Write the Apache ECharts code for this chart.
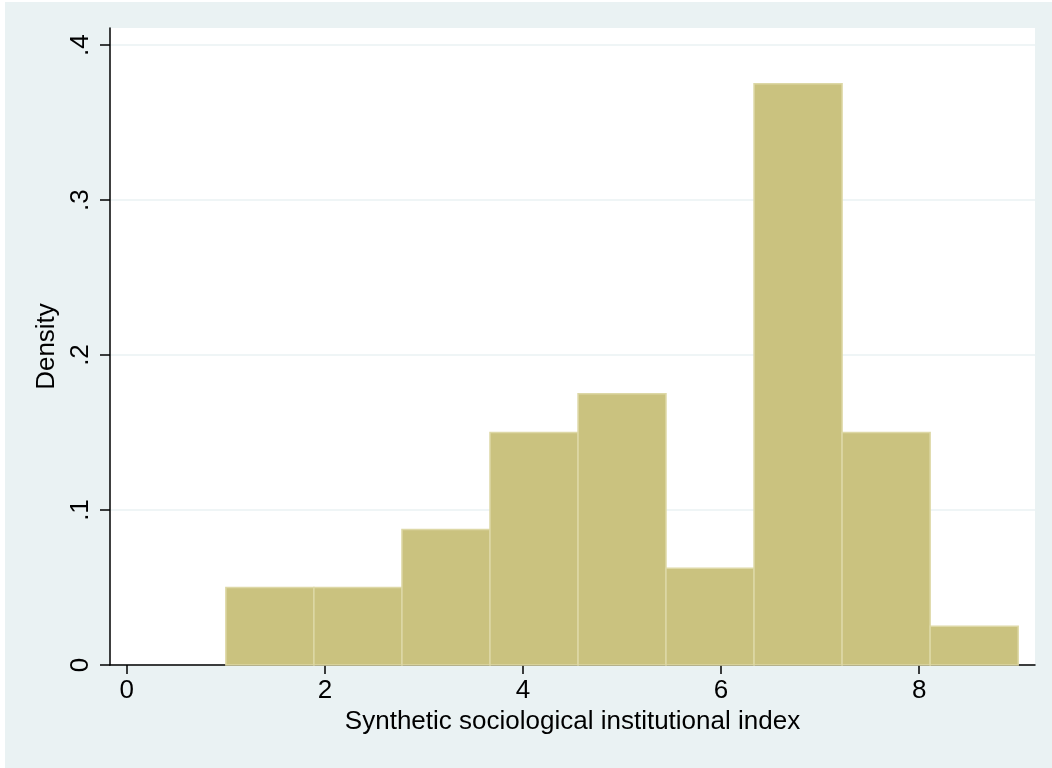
<!DOCTYPE html>
<html>
<head>
<meta charset="utf-8">
<script src="https://cdn.jsdelivr.net/npm/echarts@6/dist/echarts.min.js"></script>
<style>
html,body{margin:0;padding:0;background:#ffffff;}
#chart{width:1052px;height:768px;}
</style>
</head>
<body>
<div id="chart"></div>
<script>
// Data
const binEdges = [1, 1.889, 2.778, 3.667, 4.556, 5.444, 6.333, 7.222, 8.111, 9];
const densities = [0.05, 0.05, 0.0875, 0.15, 0.175, 0.0625, 0.375, 0.15, 0.025];
const xTicks = [0, 2, 4, 6, 8];
const yTicks = [0, 0.1, 0.2, 0.3, 0.4];
const xTitle = 'Synthetic sociological institutional index';
const yTitle = 'Density';

const barData = densities.map((d, i) => [binEdges[i], binEdges[i + 1], d]);

function fmtY(v) {
  const r = Math.round(v * 10) / 10;
  if (r === 0) return '0';
  return String(r).replace(/^0/, '');
}

const chart = echarts.init(document.getElementById('chart'), null, {renderer: 'canvas'});
const FONT = 'Liberation Sans, Arial, Helvetica, sans-serif';

chart.setOption({
  backgroundColor: '#eaf2f3',
  animation: false,
  graphic: [
    {type: 'rect', left: 0, top: 0, shape: {width: 1052, height: 2}, style: {fill: '#ffffff'}, silent: true},
    {type: 'rect', left: 0, top: 0, shape: {width: 5, height: 768}, style: {fill: '#ffffff'}, silent: true}
  ],
  grid: {
    left: 110, right: 17, top: 28, bottom: 103,
    show: true, backgroundColor: '#ffffff', borderWidth: 0
  },
  xAxis: {
    type: 'value',
    min: -0.17, max: 9.17,
    name: xTitle,
    nameLocation: 'middle',
    nameGap: 44,
    nameTextStyle: {fontFamily: FONT, fontSize: 26, color: '#000'},
    axisLine: {show: true, onZero: false, lineStyle: {color: '#000', width: 1.5}},
    axisTick: {show: true, length: 9, customValues: xTicks, lineStyle: {color: '#000', width: 1.5}},
    axisLabel: {show: true, customValues: xTicks, margin: 13, fontFamily: FONT, fontSize: 26, color: '#000'},
    splitLine: {show: false}
  },
  yAxis: {
    type: 'value',
    min: 0, max: 0.411,
    name: yTitle,
    nameLocation: 'middle',
    nameGap: 46,
    nameRotate: 90,
    nameTextStyle: {fontFamily: FONT, fontSize: 26, color: '#000'},
    axisLine: {show: true, onZero: false, lineStyle: {color: '#000', width: 1.5}},
    axisTick: {show: true, length: 10, customValues: yTicks, lineStyle: {color: '#000', width: 1.5}},
    axisLabel: {show: true, customValues: yTicks, rotate: 90, margin: 16, fontFamily: FONT, fontSize: 26, color: '#000', formatter: fmtY},
    splitLine: {show: true, lineStyle: {color: '#eaf2f3', width: 1.5}}
  },
  series: [{
    type: 'custom',
    data: barData,
    encode: {x: [0, 1], y: 2},
    renderItem: function (params, api) {
      const x0 = api.value(0), x1 = api.value(1), y = api.value(2);
      const p0 = api.coord([x0, 0]);
      const p1 = api.coord([x1, y]);
      return {
        type: 'rect',
        shape: {x: p0[0], y: p1[1], width: p1[0] - p0[0], height: p0[1] - p1[1]},
        style: {fill: '#cac27f', stroke: '#ddd8a6', lineWidth: 1.5}
      };
    },
    z: 3
  }]
});
</script>
</body>
</html>
